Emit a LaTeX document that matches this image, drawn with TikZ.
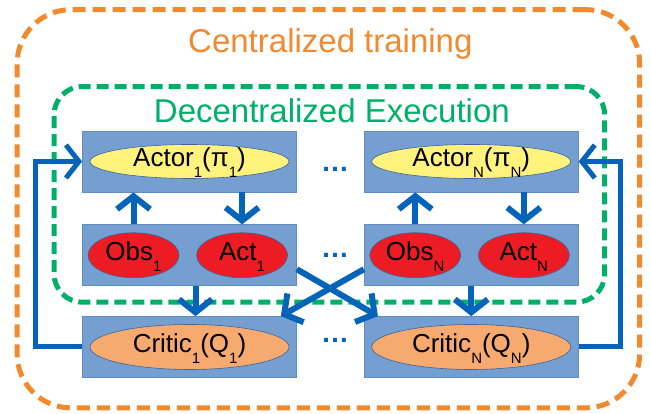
\documentclass[tikz,border=0pt]{standalone}
\usepackage{fontspec}
\setmainfont{Liberation Sans}
\usetikzlibrary{positioning,fit,arrows.meta,shapes.geometric}

\definecolor{boxblue}{RGB}{116,159,208}
\definecolor{boxedge}{RGB}{95,140,195}
\definecolor{elledge}{RGB}{60,100,150}
\definecolor{flowblue}{RGB}{5,99,186}
\definecolor{actoryellow}{RGB}{255,242,125}
\definecolor{obsred}{RGB}{237,28,36}
\definecolor{criticorange}{RGB}{247,170,112}
\definecolor{trainorange}{RGB}{242,137,44}
\definecolor{execgreen}{RGB}{0,176,106}

\newcommand{\lowsub}[1]{\raisebox{-11pt}{\fontsize{15}{15}\selectfont #1}}

\begin{document}
\begin{tikzpicture}[
        x=1pt, y=1pt,
        agent/.style={
                rectangle,
                draw=boxedge,
                line width=0.75pt,
                fill=boxblue,
                minimum width=214pt,
                minimum height=61pt,
                inner sep=0pt,
            },
        blob/.style={
                ellipse,
                draw=elledge,
                line width=0.6pt,
                inner sep=0pt,
                text height=11pt,
                text depth=0pt,
                font=\fontsize{26}{30}\selectfont,
            },
        actor/.style={blob, fill=actoryellow, minimum width=199pt, minimum height=34pt},
        obs/.style={blob, fill=obsred, minimum width=91pt, minimum height=45pt},
        critic/.style={blob, fill=criticorange, minimum width=199pt, minimum height=45pt},
        frame/.style={
                rectangle,
                dashed,
                line width=5pt,
                outer sep=0pt,
            },
        flow/.style={
                color=flowblue,
                line width=6pt,
                -{Straight Barb[length=13pt,width=33pt]},
            },
        dots/.style={text=flowblue, inner sep=0pt, font=\fontsize{28}{28}\selectfont\bfseries},
        titlefont/.style={font=\fontsize{33}{36}\selectfont},
    ]
    \useasboundingbox (0,0) rectangle (651,414);

    \node[agent] (actor1box) at (189.5,252.5) {};
    \node[agent] (obs1box) [below=32pt of actor1box] {};
    \node[agent] (critic1box) [below=30pt of obs1box] {};
    \node[agent] (actorNbox) [right=67pt of actor1box] {};
    \node[agent] (obsNbox) [right=67pt of obs1box] {};
    \node[agent] (criticNbox) [right=67pt of critic1box] {};

    \node[actor] (actor1) at (actor1box) {Actor\lowsub{1}(π\lowsub{1})};
    \node[obs] (obs1) at ([xshift=-56pt]obs1box.center) {Obs\lowsub{1}};
    \node[obs] (act1) [right=17pt of obs1] {Act\lowsub{1}};
    \node[critic] (critic1) at (critic1box) {Critic\lowsub{1}(Q\lowsub{1})};

    \node[actor] (actorN) at (actorNbox) {Actor\lowsub{N}(π\lowsub{N})};
    \node[obs] (obsN) at ([xshift=-56pt]obsNbox.center) {Obs\lowsub{N}};
    \node[obs] (actN) [right=17pt of obsN] {Act\lowsub{N}};
    \node[critic] (criticN) at (criticNbox) {Critic\lowsub{N}(Q\lowsub{N})};

    \node[dots] (dotsActor) [right=24pt of actor1box, yshift=-7.5pt] {…};
    \node[dots] (dotsObs) [right=24pt of obs1box] {…};
    \node[dots] (dotsCritic) [right=24pt of critic1box, yshift=6.5pt] {…};

    \node[
        frame,
        draw=execgreen,
        rounded corners=28pt,
        dash pattern=on 12pt off 6pt,
        fit={(actor1box)(obsNbox)},
        inner xsep=27pt,
        inner ysep=30pt,
        xshift=-1pt,
        yshift=14pt,
        label={[titlefont, text=execgreen, anchor=base, xshift=2.5pt, yshift=-36pt]north:Decentralized Execution}
    ] (execframe) {};
    \node[
        frame,
        draw=trainorange,
        rounded corners=54pt,
        dash pattern=on 13pt off 7pt,
        fit={(execframe)(critic1box)(criticNbox)},
        inner xsep=36pt,
        inner ysep=53.5pt,
        xshift=-1pt,
        yshift=23.5pt,
        label={[titlefont, text=trainorange, anchor=base, xshift=2pt, yshift=-43pt]north:Centralized training}
    ] (trainframe) {};

    \path[flow] (obs1 |- obs1box.north) edge (obs1 |- actor1box.south);
    \path[flow] (act1 |- actor1box.south) edge (act1 |- obs1box.north);
    \path[flow] (obsN |- obsNbox.north) edge (obsN |- actorNbox.south);
    \path[flow] (actN |- actorNbox.south) edge (actN |- obsNbox.north);

    \path[flow] ([xshift=6pt]obs1box.south) edge ([xshift=6pt]critic1box.north);
    \path[flow] (obsNbox.south) edge (criticNbox.north);
    \path[flow] ([yshift=-14pt]obs1box.east) edge ([xshift=14pt]criticNbox.north west);
    \path[flow] ([yshift=-14pt]obsNbox.west) edge ([xshift=-16pt]critic1box.north east);

    \draw[flow, line width=5pt] (critic1box.west) -- ++(-47pt,0) |- (actor1box.west);
    \draw[flow, line width=5pt] (criticNbox.east) -- ++(42pt,0) |- (actorNbox.east);
\end{tikzpicture}
\end{document}
